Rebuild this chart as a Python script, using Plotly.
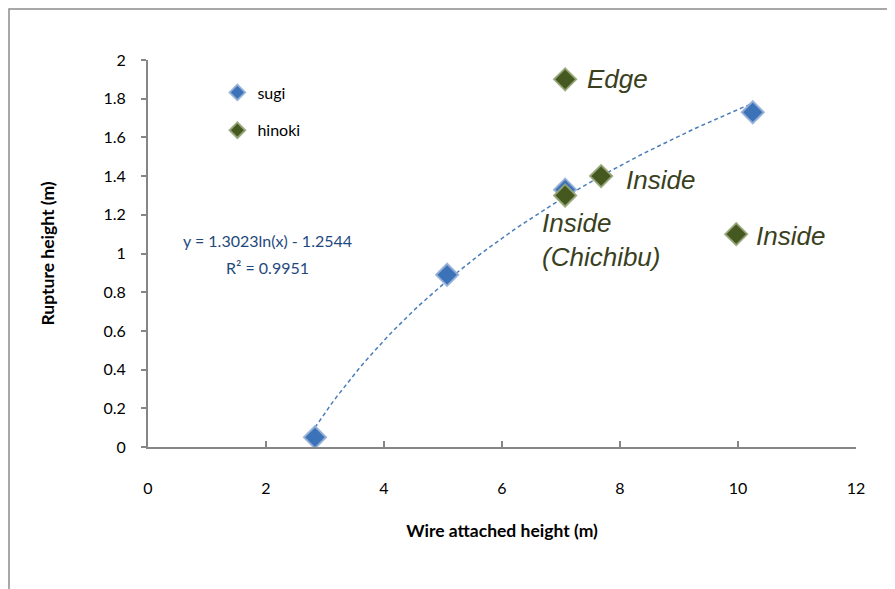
import numpy as np
import plotly.graph_objects as go

# Data
sugi_x = [2.83, 5.07, 7.07, 10.25]
sugi_y = [0.05, 0.89, 1.33, 1.73]
hinoki_x = [7.07, 7.68, 7.07, 9.97]
hinoki_y = [1.90, 1.40, 1.30, 1.10]
hinoki_labels = ["Edge", "Inside", "Inside<br>(Chichibu)", "Inside"]
label_x = [7.40, 8.06, 6.64, 10.27]
label_y = [1.90, 1.38, 1.07, 1.09]

# Logarithmic trendline coefficients (from the chart's equation)
trend_a = 1.3023
trend_b = -1.2544
trend_r2 = 0.9951

x_ticks = [0, 2, 4, 6, 8, 10, 12]
y_ticks = [0, 0.2, 0.4, 0.6, 0.8, 1, 1.2, 1.4, 1.6, 1.8, 2]

FONT = "Lato"
trend_x = np.linspace(min(sugi_x), max(sugi_x), 80)
trend_y = trend_a * np.log(trend_x) + trend_b

L, T = 140, 52          # plot area left/top in figure px
PW, PH = 708, 387       # plot area size

fig = go.Figure()
fig.add_trace(go.Scatter(
    x=trend_x, y=trend_y, mode="lines",
    line=dict(color="#4a7ebb", width=1.5, dash="4px,3px"),
    showlegend=False, hoverinfo="skip"))
fig.add_trace(go.Scatter(
    x=sugi_x, y=sugi_y, mode="markers", name="sugi", legendgroup="a",
    marker=dict(symbol="diamond", size=17, color="#3c72b8",
                line=dict(color="rgba(150,175,215,0.9)", width=2))))
fig.add_trace(go.Scatter(
    x=hinoki_x, y=hinoki_y, mode="markers", name="hinoki", legendgroup="b",
    marker=dict(symbol="diamond", size=17, color="#45581f",
                line=dict(color="rgba(150,165,120,0.9)", width=2))))

for tx, ty, t in zip(label_x, label_y, hinoki_labels):
    fig.add_annotation(x=tx, y=ty, text="<i>" + t + "</i>", showarrow=False,
                       xanchor="left", yanchor="middle", align="left",
                       font=dict(family="Liberation Sans", size=26, color="#3a3f1e"))

fig.add_annotation(x=2.03, y=1.065, text=f"y = {trend_a}ln(x) - {abs(trend_b)}",
                   showarrow=False, xanchor="center", yanchor="middle",
                   font=dict(family=FONT, size=16, color="#1f497d"))
fig.add_annotation(x=2.03, y=0.93, text=f"R² = {trend_r2}",
                   showarrow=False, xanchor="center", yanchor="middle",
                   font=dict(family=FONT, size=16, color="#1f497d"))

# outer chart border (left and top edges visible, right/bottom beyond view)
fig.add_shape(type="rect", xref="paper", yref="paper",
              x0=(1 - L) / PW, x1=(905 - L) / PW,
              y0=(T + PH - 600) / PH, y1=(T + PH - 1) / PH,
              line=dict(color="#8c8c8c", width=1.5), layer="below")

fig.update_layout(
    width=895, height=589,
    margin=dict(l=L, r=895 - L - PW, t=T, b=589 - T - PH),
    paper_bgcolor="white", plot_bgcolor="white",
    font=dict(family=FONT, size=16, color="black"),
    legend=dict(x=0.098, y=0.96, xanchor="left", yanchor="top",
                traceorder="grouped", tracegroupgap=14,
                font=dict(family=FONT, size=16, color="black"),
                bgcolor="rgba(0,0,0,0)", itemsizing="constant"),
    xaxis=dict(range=[0, 12], tickvals=x_ticks, ticktext=[str(v) for v in x_ticks],
               showgrid=False, zeroline=False, showline=True, linecolor="#868686",
               linewidth=2, ticks="inside", ticklen=6, tickwidth=2, tickcolor="#868686",
               ticklabelstandoff=26,
               title=dict(text="<b>Wire attached height (m)</b>", standoff=29,
                          font=dict(family=FONT, size=17.5))),
    yaxis=dict(range=[0, 2], tickvals=y_ticks, ticktext=[f"{v:g}" for v in y_ticks],
               showgrid=False, zeroline=False, showline=True, linecolor="#868686",
               linewidth=2, ticks="outside", ticklen=5, tickwidth=2, tickcolor="#868686",
               ticklabelstandoff=12,
               title=dict(text="<b>Rupture height (m)</b>", standoff=44,
                          font=dict(family=FONT, size=17.5))),
)

fig.write_html("out.html")
